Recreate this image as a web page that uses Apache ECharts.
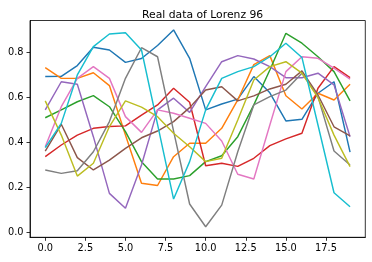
<!DOCTYPE html>
<html>
<head>
<meta charset="utf-8">
<script src="https://cdn.jsdelivr.net/npm/echarts@6/dist/echarts.min.js"></script>
<style>
html,body{margin:0;padding:0;background:#fff;}
#chart{width:372px;height:262px;}
</style>
</head>
<body>
<div id="chart"></div>
<script>
const title = "Real data of Lorenz 96";
const steps = [0,1,2,3,4,5,6,7,8,9,10,11,12,13,14,15,16,17,18,19];
const xTicks = [0, 2.5, 5, 7.5, 10, 12.5, 15, 17.5];
const yTicks = [0, 0.2, 0.4, 0.6, 0.8];
const colors = ["#1f77b4","#ff7f0e","#2ca02c","#d62728","#9467bd","#8c564b","#e377c2","#7f7f7f","#bcbd22","#17becf"];

const s0 = [0.692,0.693,0.741,0.822,0.810,0.755,0.772,0.830,0.899,0.773,0.544,0.570,0.592,0.692,0.620,0.495,0.502,0.618,0.669,0.356];
const s1 = [0.732,0.684,0.684,0.709,0.652,0.432,0.218,0.208,0.336,0.396,0.396,0.462,0.588,0.745,0.785,0.607,0.548,0.618,0.588,0.658];
const s2 = [0.509,0.544,0.580,0.607,0.558,0.447,0.314,0.237,0.237,0.252,0.314,0.340,0.425,0.566,0.721,0.884,0.840,0.780,0.714,0.584];
const s3 = [0.336,0.388,0.432,0.462,0.470,0.473,0.521,0.566,0.640,0.578,0.296,0.307,0.293,0.329,0.385,0.415,0.440,0.640,0.736,0.687];
const s4 = [0.544,0.669,0.658,0.425,0.173,0.107,0.299,0.544,0.596,0.533,0.647,0.758,0.785,0.770,0.736,0.687,0.687,0.707,0.655,0.425];
const s5 = [0.361,0.480,0.332,0.277,0.321,0.373,0.420,0.450,0.492,0.554,0.632,0.647,0.584,0.606,0.637,0.658,0.717,0.610,0.469,0.429];
const s6 = [0.380,0.558,0.684,0.736,0.684,0.514,0.444,0.544,0.529,0.507,0.484,0.406,0.258,0.237,0.477,0.714,0.780,0.773,0.729,0.681];
const s7 = [0.277,0.262,0.274,0.358,0.492,0.684,0.820,0.780,0.450,0.126,0.025,0.121,0.358,0.566,0.603,0.632,0.707,0.603,0.361,0.299];
const s8 = [0.584,0.432,0.250,0.307,0.470,0.584,0.556,0.514,0.440,0.380,0.314,0.329,0.499,0.677,0.736,0.758,0.707,0.598,0.432,0.292];
const s9 = [0.376,0.484,0.699,0.825,0.881,0.887,0.810,0.480,0.148,0.314,0.544,0.684,0.714,0.736,0.780,0.840,0.777,0.477,0.176,0.114];
const allSeries = [s0,s1,s2,s3,s4,s5,s6,s7,s8,s9];

const chart = echarts.init(document.getElementById('chart'), null, {renderer:'canvas'});
const font = 'DejaVu Sans';
chart.setOption({
  animation: false,
  backgroundColor: '#fff',
  title: {
    text: title,
    left: 197.6,
    textAlign: 'center',
    top: 4.5,
    textStyle: {fontFamily: font, fontSize: 10.8, fontWeight: 'normal', color: '#000'}
  },
  grid: {
    left: 30, right: 6.7, top: 20.5, bottom: 24.7,
    show: true, borderColor: '#000', borderWidth: 0.8, backgroundColor: 'transparent'
  },
  xAxis: {
    type: 'value', min: -0.95, max: 19.95,
    splitLine: {show: false},
    axisLine: {show: true, onZero: false, lineStyle: {color: '#000', width: 0.8}},
    axisTick: {show: true, length: 3.5, lineStyle: {color: '#000', width: 0.8}, customValues: xTicks},
    axisLabel: {customValues: xTicks, margin: 6.5, fontFamily: font, fontSize: 9.8, color: '#000',
      formatter: v => Number(v).toFixed(1)}
  },
  yAxis: {
    type: 'value', min: -0.022, max: 0.941,
    splitLine: {show: false},
    axisLine: {show: true, onZero: false, lineStyle: {color: '#000', width: 0.8}},
    axisTick: {show: true, length: 3.5, lineStyle: {color: '#000', width: 0.8}, customValues: yTicks},
    axisLabel: {customValues: yTicks, margin: 6.5, fontFamily: font, fontSize: 9.8, color: '#000',
      formatter: v => Number(v).toFixed(1)}
  },
  series: allSeries.map((arr, k) => ({
    type: 'line',
    data: steps.map((x, i) => [x, arr[i]]),
    symbol: 'none',
    lineStyle: {color: colors[k], width: 1.45},
    itemStyle: {color: colors[k]},
    z: 2 + k
  }))
});
</script>
</body>
</html>
